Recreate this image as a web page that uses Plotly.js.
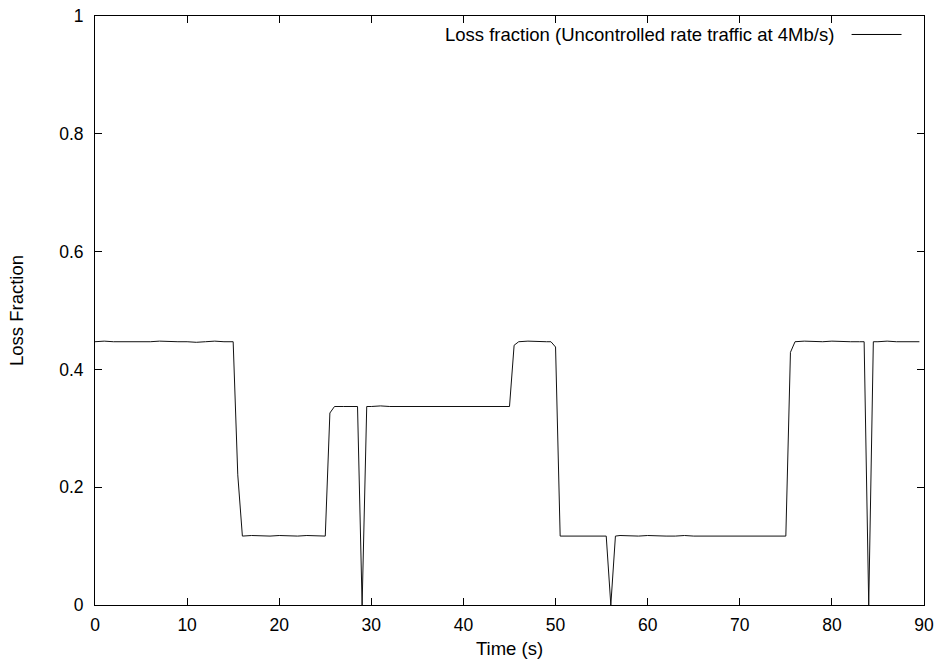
<!DOCTYPE html>
<html>
<head>
<meta charset="utf-8">
<script src="https://cdn.plot.ly/plotly-3.0.1.min.js"></script>
<style>
html,body{margin:0;padding:0;background:#fff;}
#chart{width:941px;height:664px;}
</style>
</head>
<body>
<div id="chart"></div>
<script>
// Time (s)
var timeSec = [
  0, 1, 2, 3, 4, 5, 6, 7, 8, 9, 10, 11, 12, 13, 14, 15, 15.5,
  16, 17, 18, 19, 20, 21, 22, 23, 24, 25, 25.5,
  26, 27, 28, 28.5, 29, 29.5,
  30, 31, 32, 33, 34, 35, 36, 37, 38, 39, 40, 41, 42, 43, 44, 45, 45.5,
  46, 47, 48, 49, 49.5, 50, 50.5,
  51, 52, 53, 54, 55, 55.5, 56, 56.5,
  57, 58, 59, 60, 61, 62, 63, 64, 65, 66, 67, 68, 69, 70, 71, 72, 73, 74, 75, 75.5,
  76, 77, 78, 79, 80, 81, 82, 83, 83.5, 84, 84.5,
  85, 86, 87, 88, 89, 89.5
];
// Loss fraction
var lossFraction = [
  0.447, 0.448, 0.447, 0.447, 0.446, 0.447, 0.447, 0.448, 0.447, 0.447, 0.447, 0.446, 0.447, 0.448, 0.447, 0.447, 0.221,
  0.117, 0.118, 0.117, 0.117, 0.118, 0.117, 0.117, 0.118, 0.117, 0.117, 0.326,
  0.337, 0.337, 0.337, 0.337, 0.0, 0.337,
  0.337, 0.338, 0.337, 0.337, 0.337, 0.338, 0.337, 0.337, 0.337, 0.338, 0.337, 0.337, 0.338, 0.337, 0.337, 0.337, 0.441,
  0.447, 0.448, 0.447, 0.447, 0.447, 0.438, 0.117,
  0.117, 0.118, 0.117, 0.117, 0.117, 0.117, 0.0, 0.117,
  0.118, 0.117, 0.117, 0.118, 0.117, 0.117, 0.117, 0.118, 0.117, 0.117, 0.117, 0.118, 0.117, 0.117, 0.117, 0.118, 0.117, 0.117, 0.117, 0.429,
  0.447, 0.448, 0.447, 0.447, 0.448, 0.447, 0.447, 0.447, 0.447, 0.0, 0.447,
  0.447, 0.448, 0.447, 0.447, 0.447, 0.447
];
var xTicks = [0, 10, 20, 30, 40, 50, 60, 70, 80, 90];
var yTicks = [0, 0.2, 0.4, 0.6, 0.8, 1];
var yTickText = ['0', '0.2', '0.4', '0.6', '0.8', '1'];
var seriesName = 'Loss fraction (Uncontrolled rate traffic at 4Mb/s)';

var FONT = 'Liberation Sans, Arial, Helvetica, sans-serif';
var TXT = 18.5;
var TICK = 17.5;

var trace = {
  x: timeSec,
  y: lossFraction,
  type: 'scatter',
  mode: 'lines',
  name: seriesName,
  line: {color: '#111111', width: 1},
  showlegend: false,
  hoverinfo: 'x+y'
};

var axisCommon = {
  showgrid: false,
  zeroline: false,
  showline: true,
  linecolor: '#000000',
  linewidth: 1,
  mirror: 'ticks',
  ticks: 'inside',
  ticklen: 7,
  tickwidth: 1,
  tickcolor: '#000000',
  tickfont: {family: FONT, size: TICK, color: '#000000'}
};

var layout = {
  width: 941,
  height: 664,
  margin: {l: 94.5, r: 16.5, t: 15.5, b: 58.7, pad: 0},
  paper_bgcolor: '#ffffff',
  plot_bgcolor: '#ffffff',
  font: {family: FONT, size: TXT, color: '#000000'},
  xaxis: Object.assign({}, axisCommon, {
    range: [0, 90],
    tickmode: 'array',
    tickvals: xTicks,
    ticktext: xTicks.map(String),
    ticklabelstandoff: 4,
    title: {text: 'Time (s)', font: {family: FONT, size: TXT, color: '#000000'}, standoff: 8}
  }),
  yaxis: Object.assign({}, axisCommon, {
    range: [0, 1],
    tickmode: 'array',
    tickvals: yTicks,
    ticktext: yTickText,
    ticklabelstandoff: 7,
    title: {text: 'Loss Fraction', font: {family: FONT, size: TXT, color: '#000000'}, standoff: 30}
  }),
  showlegend: false,
  annotations: [{
    xref: 'paper', yref: 'paper',
    x: (836 - 94.5) / 830, y: (605.3 - 34) / 589.8,
    xanchor: 'right', yanchor: 'middle',
    text: seriesName,
    showarrow: false,
    font: {family: FONT, size: TXT, color: '#000000'}
  }],
  shapes: [{
    type: 'line', xref: 'paper', yref: 'paper',
    x0: (852 - 94.5) / 830, x1: (902 - 94.5) / 830,
    y0: (605.3 - 34) / 589.8, y1: (605.3 - 34) / 589.8,
    line: {color: '#000000', width: 1}
  }]
};

Plotly.newPlot('chart', [trace], layout, {displayModeBar: false, staticPlot: true});
</script>
</body>
</html>
